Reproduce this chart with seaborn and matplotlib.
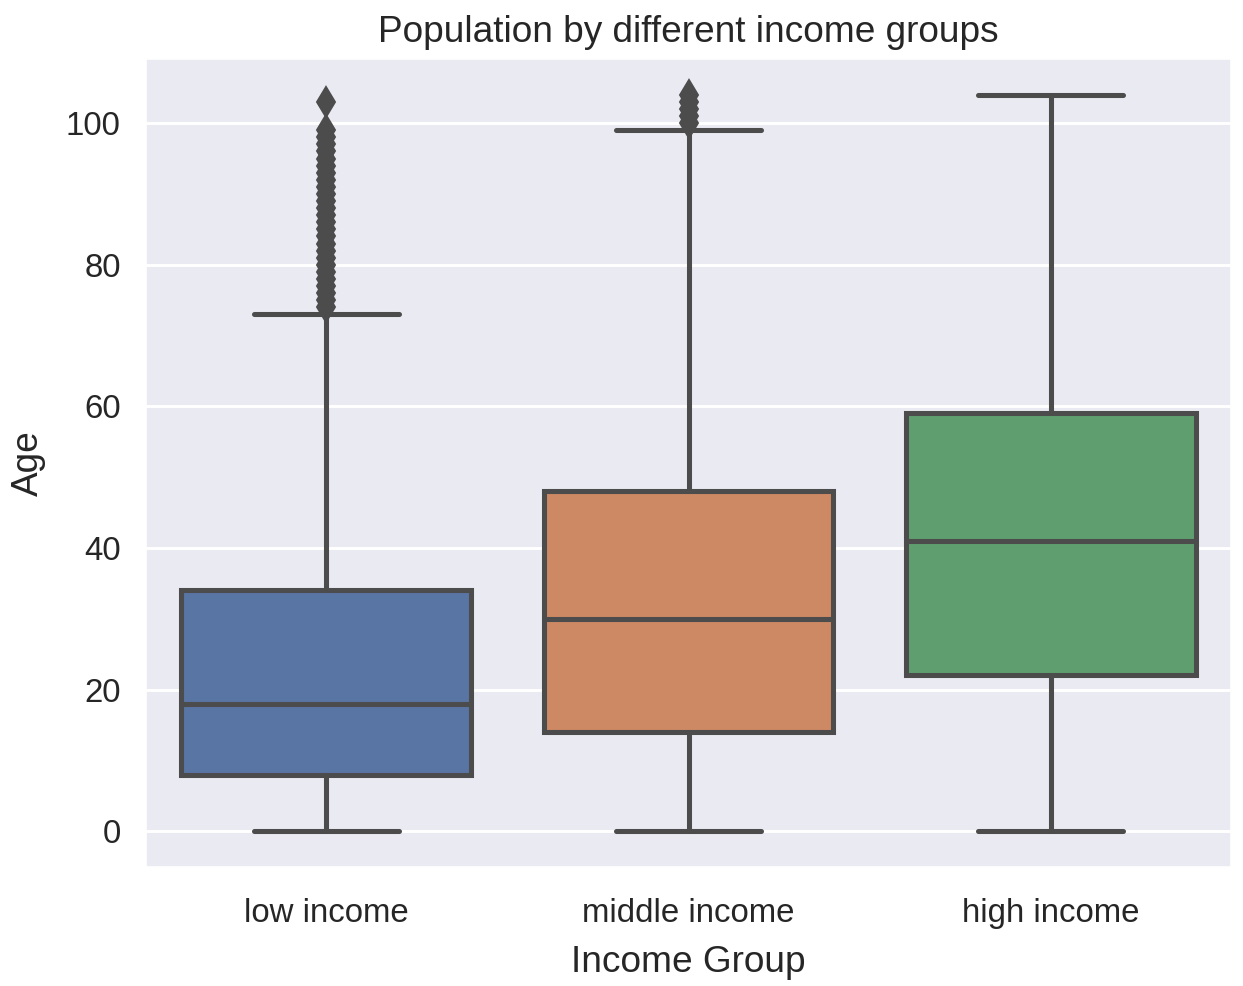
import numpy as np
import matplotlib
matplotlib.use("Agg")
import matplotlib.pyplot as plt
import seaborn as sns

groups = ["low income", "middle income", "high income"]
whis_low = [0, 0, 0]
q1 = [8, 14, 22]
medians = [18, 30, 41]
q3 = [34, 48, 59]
whis_high = [73, 99, 104]
fliers_low = list(range(74, 100)) + [103]
fliers_mid = [100, 101, 102, 103, 104]
fliers_high = []

sns.set_theme(style="darkgrid", context="talk")
plt.rcParams['font.family'] = ['Liberation Sans', 'DejaVu Sans']

palette = sns.color_palette("deep", 3)
palette = [sns.desaturate(c, 0.75) for c in palette]
line_color = "#4c4c4c"

stats = []
for i, name in enumerate(groups):
    stats.append({
        "label": name,
        "whislo": whis_low[i],
        "q1": q1[i],
        "med": medians[i],
        "q3": q3[i],
        "whishi": whis_high[i],
        "fliers": [fliers_low, fliers_mid, fliers_high][i],
    })

fig = plt.figure(figsize=(1243 / 140, 986 / 140), dpi=140)
ax = fig.add_axes([145 / 1243, 1 - 868 / 986, (1232 - 145) / 1243, (868 - 58) / 986])

lw = 2.6
bp = ax.bxp(stats, positions=[0, 1, 2], widths=0.8, patch_artist=True,
            boxprops=dict(edgecolor=line_color, linewidth=lw),
            medianprops=dict(color=line_color, linewidth=lw),
            whiskerprops=dict(color=line_color, linewidth=lw),
            capprops=dict(color=line_color, linewidth=lw),
            flierprops=dict(marker="d", markerfacecolor=line_color,
                            markeredgecolor=line_color, markersize=11))
for patch, c in zip(bp["boxes"], palette):
    patch.set_facecolor(c)

ax.set_xlim(-0.5, 2.5)
ax.set_ylim(-5.2, 109.2)
ax.set_xticks([0, 1, 2])
ax.set_xticklabels(groups)
ax.tick_params(axis="x", pad=6.5)
ax.tick_params(axis="y", labelsize=17)
ax.tick_params(axis="x", labelsize=17)
ax.grid(axis="x", visible=False)
ax.set_xlabel("Income Group", fontsize=19, labelpad=8)
ax.set_ylabel("Age", fontsize=19, labelpad=10)
ax.set_title("Population by different income groups", fontsize=19, pad=8)

fig.savefig("out.png", dpi=140)
